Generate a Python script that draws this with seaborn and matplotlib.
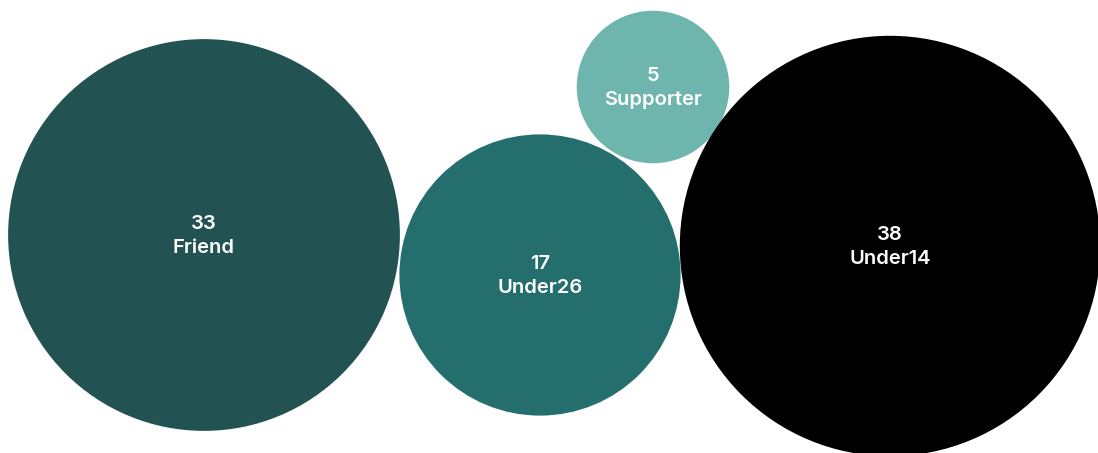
import numpy as np
import matplotlib
matplotlib.use("Agg")
import matplotlib.pyplot as plt
from matplotlib.patches import Circle
import seaborn as sns

# Data
categories = ["Friend", "Under26", "Supporter", "Under14"]
values = [33, 17, 5, 38]

# Layout (bubble centres in pixel space) and styles
centers_x = [204, 540, 653, 890]
centers_y = [235, 275, 87, 246]
colors = ["#225352", "#246e6e", "#6db5ad", "#000000"]
scale = 34.1  # radius = scale * sqrt(value)

sns.set_theme(style="white")
plt.rcParams["font.family"] = ["Inter", "DejaVu Sans"]

fig = plt.figure(figsize=(10.98, 4.53), dpi=100)
ax = fig.add_axes([0, 0, 1, 1])
ax.set_xlim(0, 1098)
ax.set_ylim(453, 0)
ax.set_aspect("equal")
ax.axis("off")

for cat, val, cx, cy, col in zip(categories, values, centers_x, centers_y, colors):
    r = scale * np.sqrt(val)
    ax.add_patch(Circle((cx, cy), r, facecolor=col, edgecolor="none"))
    ax.text(cx, cy - 11, str(val), ha="center", va="center", color="white",
            fontsize=14.5, fontweight="semibold")
    ax.text(cx, cy + 13, cat, ha="center", va="center", color="white",
            fontsize=14.5, fontweight="semibold")

fig.savefig("out.png", dpi=100, facecolor="white")
